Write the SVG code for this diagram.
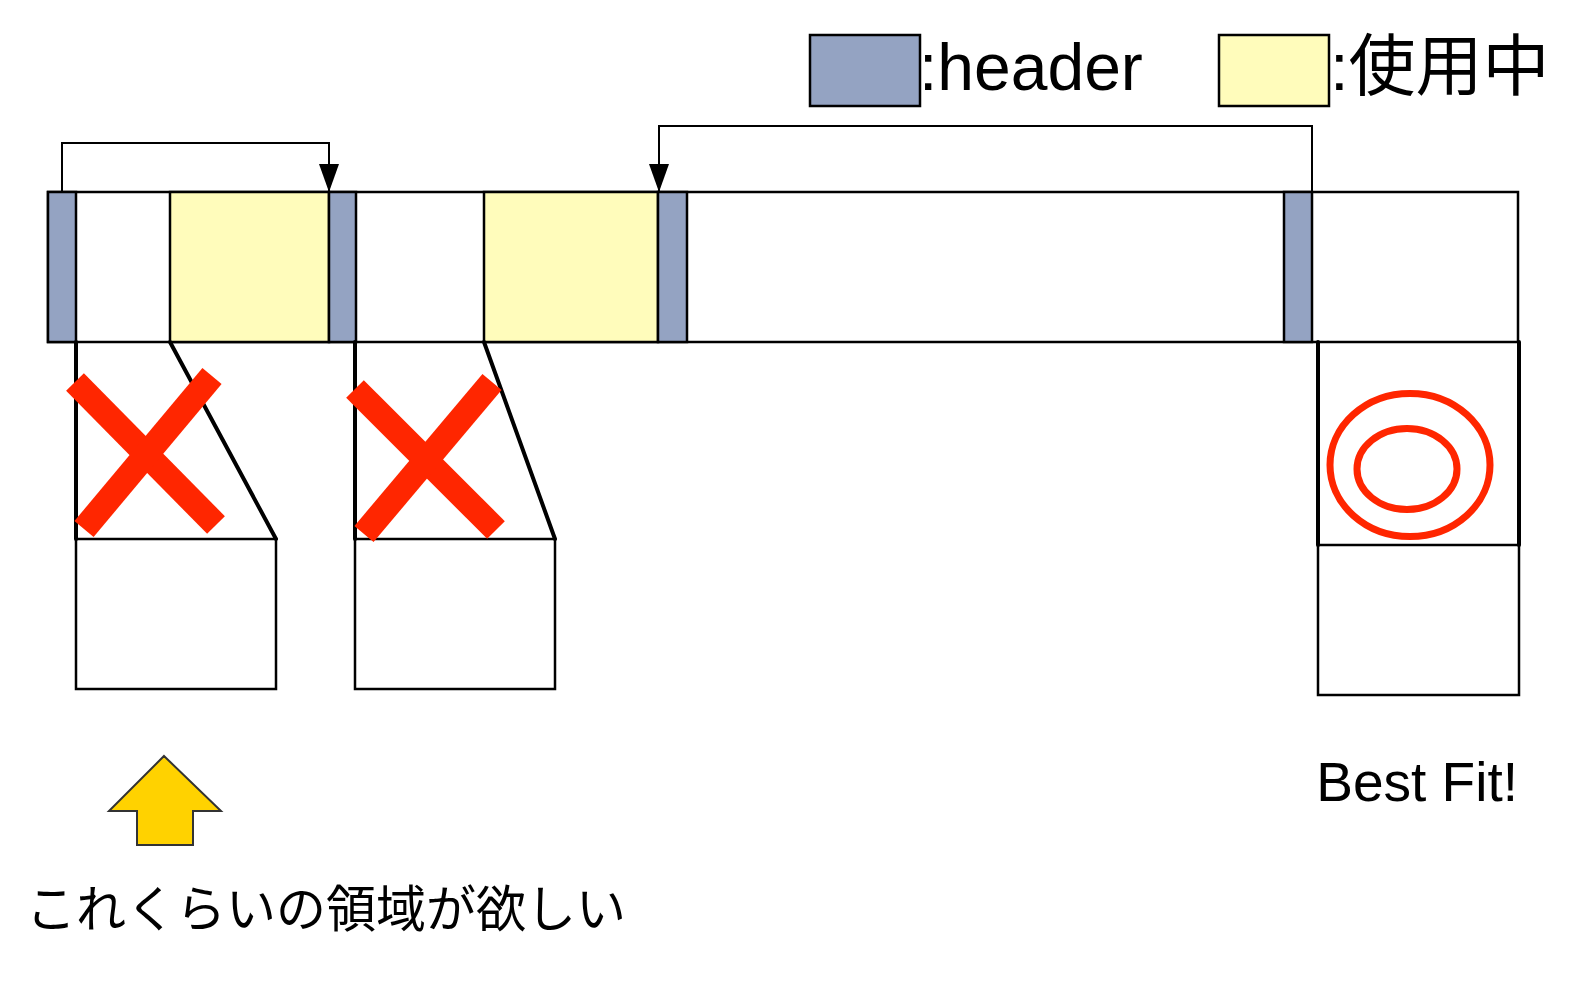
<svg xmlns="http://www.w3.org/2000/svg" width="1577" height="986" viewBox="0 0 1577 986">
  <style>
    .bar { fill: #ffffff; stroke: #000; stroke-width: 2.5; }
    .hdr { fill: #94a3c2; stroke: #000; stroke-width: 2.5; }
    .used { fill: #fffcbb; stroke: #000; stroke-width: 2.5; }
    .thin { fill: none; stroke: #000; stroke-width: 2.5; }
    .thick { fill: none; stroke: #000; stroke-width: 4; stroke-linecap: round; }
    .conn { fill: none; stroke: #000; stroke-width: 2; }
    .cross { stroke: #ff2600; stroke-width: 25; fill: none; }
    .ring { stroke: #ff2600; stroke-width: 7; fill: none; }
    .lbl { font-family: "Liberation Sans", "Noto Sans CJK JP", sans-serif; fill: #000; }
    .jp { font-family: "Noto Sans CJK JP", sans-serif; fill: #000; }
  </style>
  <defs>
    <marker id="ah" viewBox="0 0 28 20" refX="28" refY="10" markerWidth="28" markerHeight="20" markerUnits="userSpaceOnUse" orient="auto">
      <path d="M0,0 L28,10 L0,20 z" fill="#000"/>
    </marker>
  </defs>
  <rect width="1577" height="986" fill="#ffffff"/>

  <g id="legend-header">
    <rect class="hdr" x="810" y="35" width="110" height="71"/>
    <text class="lbl" x="919" y="90" font-size="66">:header</text>
  </g>
  <g id="legend-used">
    <rect class="used" x="1219" y="35" width="110" height="71"/>
    <text class="lbl" x="1330" y="90" font-size="67">:使用中</text>
  </g>

  <g id="memory-bar">
    <rect class="bar" x="48" y="192" width="1470" height="150"/>
    <rect class="hdr" x="48" y="192" width="28" height="150"/>
    <rect class="used" x="170" y="192" width="159" height="150"/>
    <rect class="hdr" x="329" y="192" width="27" height="150"/>
    <rect class="used" x="484" y="192" width="174" height="150"/>
    <rect class="hdr" x="658" y="192" width="29" height="150"/>
    <rect class="hdr" x="1284" y="192" width="28" height="150"/>
  </g>

  <g id="connectors">
    <path class="conn" d="M62,192 V143 H329 V192" marker-end="url(#ah)"/>
    <path class="conn" d="M1312,192 V126 H659 V192" marker-end="url(#ah)"/>
  </g>

  <g id="fit1">
    <path class="thick" d="M76,342 V539"/>
    <path class="thick" d="M170,342 L276,539"/>
    <rect class="thin" x="76" y="539" width="200" height="150"/>
    <line class="cross" x1="75" y1="382" x2="216" y2="525"/>
    <line class="cross" x1="84" y1="529" x2="212" y2="376"/>
  </g>

  <g id="fit2">
    <path class="thick" d="M355,342 V539"/>
    <path class="thick" d="M484,342 L555,539"/>
    <rect class="thin" x="355" y="539" width="200" height="150"/>
    <line class="cross" x1="355" y1="389" x2="496" y2="530"/>
    <line class="cross" x1="364" y1="534" x2="492" y2="382"/>
  </g>

  <g id="fit3">
    <path class="thick" d="M1318,342 V545"/>
    <path class="thick" d="M1519,342 V545"/>
    <rect class="thin" x="1318" y="545" width="201" height="150"/>
    <ellipse class="ring" cx="1410" cy="465" rx="80" ry="71.5"/>
    <ellipse class="ring" cx="1407" cy="469" rx="50" ry="40.5"/>
    <text class="lbl" x="1518" y="801" font-size="55" text-anchor="end">Best Fit!</text>
  </g>

  <g id="want-arrow">
    <path d="M164,756 L221,811 H193 V845 H137 V811 H109 Z" fill="#ffd200" stroke="#333" stroke-width="2"/>
    <text class="jp" x="26" y="927" font-size="50">これくらいの領域が欲しい</text>
  </g>
</svg>
